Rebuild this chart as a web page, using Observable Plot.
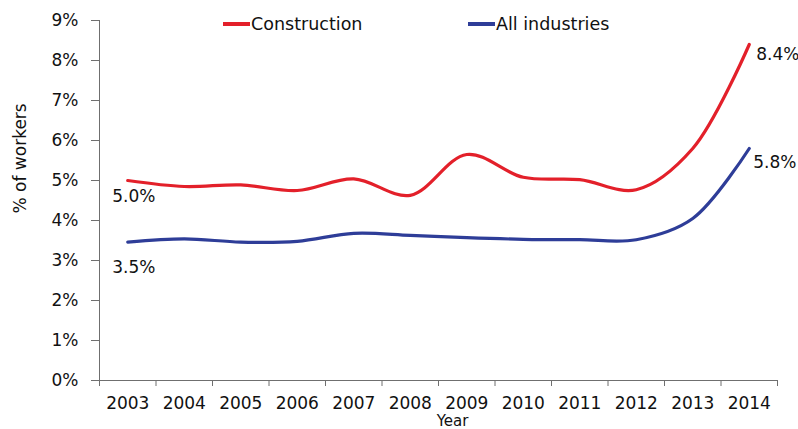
<!DOCTYPE html>
<html><head><meta charset="utf-8">
<script src="https://cdn.jsdelivr.net/npm/d3@7"></script>
<script src="https://cdn.jsdelivr.net/npm/@observablehq/plot@0.6"></script>
<style>
body{margin:0;background:#fff;}
#wrap{position:relative;width:798px;height:429px;overflow:hidden;font-family:"DejaVu Sans",sans-serif;background:#fff;}
.leg{position:absolute;top:12px;height:24px;font-size:17.5px;display:flex;align-items:center;color:#111;white-space:nowrap;}
.sw{display:inline-block;width:27px;height:3.5px;margin-right:1px;}
</style></head><body><div id="wrap"></div>
<script>
const years = [2003, 2004, 2005, 2006, 2007, 2008, 2009, 2010, 2011, 2012, 2013, 2014];
const construction = [5.0, 4.85, 4.89, 4.75, 5.04, 4.63, 5.65, 5.08, 5.02, 4.77, 5.8, 8.4];
const allIndustries = [3.46, 3.54, 3.46, 3.48, 3.68, 3.63, 3.57, 3.53, 3.52, 3.52, 4.05, 5.8];
const seriesNames = ["Construction", "All industries"];
const seriesColors = ["#e3202a", "#2e3d98"];
const yTicks = [0, 1, 2, 3, 4, 5, 6, 7, 8, 9];
const yTitle = "% of workers";
const xTitle = "Year";

const rows = years.flatMap((yr, i) => [
  {year: yr, value: construction[i], series: seriesNames[0]},
  {year: yr, value: allIndustries[i], series: seriesNames[1]}
]);
const first = i => ({year: years[0], value: [construction, allIndustries][i][0]});
const last = i => ({year: years[years.length - 1], value: [construction, allIndustries][i][years.length - 1]});
const boundaries = years.map(y => y - 0.5).concat([years[years.length - 1] + 0.5]);
const fmt = d => d.value.toFixed(1) + "%";
const axisColor = "#6f6f6f";

const chart = Plot.plot({
  width: 798, height: 429,
  marginLeft: 99, marginRight: 21, marginTop: 20, marginBottom: 49,
  style: {fontFamily: "DejaVu Sans, sans-serif", fontSize: "17px", color: "#111", background: "#fff"},
  x: {domain: [years[0] - 0.5, years[years.length - 1] + 0.5]},
  y: {domain: [0, 9]},
  color: {domain: seriesNames, range: seriesColors},
  marks: [
    Plot.axisY({ticks: yTicks, tickFormat: d => d + "%", tickSize: 8, tickPadding: 13, label: null, stroke: axisColor}),
    Plot.axisX({ticks: years, tickFormat: d => String(d), tickSize: 0, tickPadding: 16, label: null}),
    Plot.axisX({ticks: boundaries, tickFormat: () => "", tickSize: 6, label: null, stroke: axisColor}),
    Plot.ruleX([years[0] - 0.5], {stroke: axisColor}),
    Plot.ruleY([0], {stroke: axisColor}),
    Plot.lineY(rows, {x: "year", y: "value", z: "series", stroke: "series", strokeWidth: 3.2, curve: "catmull-rom"}),
    Plot.text([first(0)], {x: "year", y: "value", text: fmt, textAnchor: "start", dx: -15.5, dy: 16.5}),
    Plot.text([first(1)], {x: "year", y: "value", text: fmt, textAnchor: "start", dx: -15.5, dy: 25.5}),
    Plot.text([last(0)], {x: "year", y: "value", text: fmt, textAnchor: "start", dx: 7, dy: 10}),
    Plot.text([last(1)], {x: "year", y: "value", text: fmt, textAnchor: "start", dx: 4, dy: 14}),
    Plot.text([yTitle], {frameAnchor: "left", rotate: -90, dx: -79, dy: 13}),
    Plot.text([xTitle], {frameAnchor: "bottom", lineAnchor: "bottom", fontSize: 15, dx: 14, dy: 45})
  ]
});

const wrap = document.getElementById("wrap");
wrap.appendChild(chart);
const legLeft = [223, 468];
seriesNames.forEach((name, i) => {
  const d = document.createElement("div");
  d.className = "leg";
  d.style.left = legLeft[i] + "px";
  const sw = document.createElement("span");
  sw.className = "sw";
  sw.style.background = seriesColors[i];
  d.appendChild(sw);
  d.appendChild(document.createTextNode(name));
  wrap.appendChild(d);
});
</script>
</body></html>
